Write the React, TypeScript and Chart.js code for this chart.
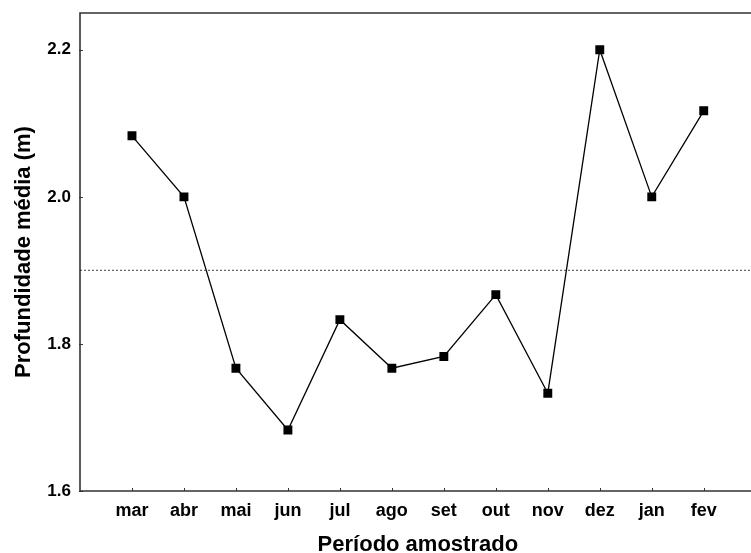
import { useEffect, useRef } from "react";
import { Chart, registerables } from "chart.js";

Chart.register(...registerables);

// Months of the sampling period and the mean depth measured in each
const months = ["mar", "abr", "mai", "jun", "jul", "ago", "set", "out", "nov", "dez", "jan", "fev"];
const depthMeans = [2.083, 2.0, 1.767, 1.683, 1.833, 1.767, 1.783, 1.867, 1.733, 2.2, 2.0, 2.117];

// Overall mean depth, drawn as a dotted reference line
const overallMean = 1.9;

// Value axis
const yTicks = [1.6, 1.8, 2.0, 2.2];
const yMin = 1.6;
const yMax = 2.25;

const xTitle = "Período amostrado";
const yTitle = "Profundidade média (m)";

const FONT = '"Liberation Sans", Arial, Helvetica, sans-serif';
const AXIS_COLOR = "#333333";

// Closed frame on top/left/bottom plus short inward tick marks
const framePlugin = {
  id: "frame",
  afterDraw(chart: any) {
    const { ctx, chartArea: a, scales } = chart;
    const x = scales.x;
    const y = scales.y;
    ctx.save();
    ctx.strokeStyle = AXIS_COLOR;
    ctx.lineWidth = 1.6;
    ctx.beginPath();
    ctx.moveTo(a.right + 2, a.top);
    ctx.lineTo(a.left, a.top);
    ctx.lineTo(a.left, a.bottom);
    ctx.lineTo(a.right + 2, a.bottom);
    ctx.stroke();

    ctx.lineWidth = 1;
    ctx.beginPath();
    x.ticks.forEach((t: any) => {
      const px = Math.round(x.getPixelForValue(t.value)) + 0.5;
      ctx.moveTo(px, a.bottom);
      ctx.lineTo(px, a.bottom - 3);
    });
    y.ticks.forEach((t: any) => {
      const py = Math.round(y.getPixelForValue(t.value)) + 0.5;
      ctx.moveTo(a.left - 1, py);
      ctx.lineTo(a.left + 3, py);
    });
    ctx.stroke();
    ctx.restore();
  },
};

export default function App() {
  const canvasRef = useRef<HTMLCanvasElement | null>(null);

  useEffect(() => {
    const canvas = canvasRef.current;
    if (!canvas) return;

    const series = months.map((_, i) => ({ x: i, y: depthMeans[i] }));
    const meanLine = [
      { x: -1, y: overallMean },
      { x: months.length, y: overallMean },
    ];

    const chart = new Chart(canvas, {
      type: "line",
      data: {
        datasets: [
          {
            data: meanLine,
            borderColor: "#666666",
            borderWidth: 1.4,
            borderDash: [2, 2],
            pointRadius: 0,
            fill: false,
          },
          {
            data: series,
            borderColor: "#000000",
            borderWidth: 1.3,
            pointStyle: "rect",
            pointRadius: 6.3,
            pointBackgroundColor: "#000000",
            pointBorderColor: "#000000",
            pointBorderWidth: 0,
            fill: false,
            tension: 0,
          },
        ],
      },
      options: {
        responsive: false,
        maintainAspectRatio: false,
        animation: false,
        devicePixelRatio: 1,
        layout: { padding: { top: 13, right: 1, left: 0, bottom: 0 } },
        plugins: {
          legend: { display: false },
          tooltip: { enabled: false },
        },
        scales: {
          x: {
            type: "linear",
            min: -1,
            max: months.length,
            grid: { display: false, drawTicks: false },
            border: { display: false },
            afterBuildTicks: (scale: any) => {
              scale.ticks = months.map((_, i) => ({ value: i }));
            },
            afterFit: (scale: any) => {
              scale.height = 69;
              scale.paddingLeft = 0;
              scale.paddingRight = 0;
            },
            ticks: {
              autoSkip: false,
              maxRotation: 0,
              minRotation: 0,
              padding: 9,
              color: "#000000",
              font: { family: FONT, size: 18, weight: "bold" },
              callback: (v: any) => months[Number(v)] ?? "",
            },
            title: {
              display: true,
              text: xTitle,
              color: "#000000",
              font: { family: FONT, size: 22, weight: "bold" },
              padding: { top: 0, bottom: 2 },
            },
          },
          y: {
            type: "linear",
            min: yMin,
            max: yMax,
            grid: { display: false, drawTicks: false },
            border: { display: false },
            afterBuildTicks: (scale: any) => {
              scale.ticks = yTicks.map((v) => ({ value: v }));
            },
            afterFit: (scale: any) => {
              scale.width = 80;
              scale.paddingTop = 0;
              scale.paddingBottom = 0;
            },
            ticks: {
              padding: 9,
              color: "#000000",
              font: { family: FONT, size: 17, weight: "bold" },
              callback: (v: any) => Number(v).toFixed(1),
            },
            title: {
              display: true,
              text: yTitle,
              color: "#000000",
              font: { family: FONT, size: 22, weight: "bold" },
              padding: { top: 11, bottom: 0 },
            },
          },
        },
      },
      plugins: [framePlugin],
    } as any);

    return () => chart.destroy();
  }, []);

  return (
    <div
      style={{
        position: "fixed",
        left: 0,
        top: 0,
        width: 751,
        height: 553,
        overflow: "hidden",
        background: "#ffffff",
      }}
    >
      <canvas ref={canvasRef} width={762} height={560} style={{ display: "block", width: 762, height: 560 }} />
    </div>
  );
}
